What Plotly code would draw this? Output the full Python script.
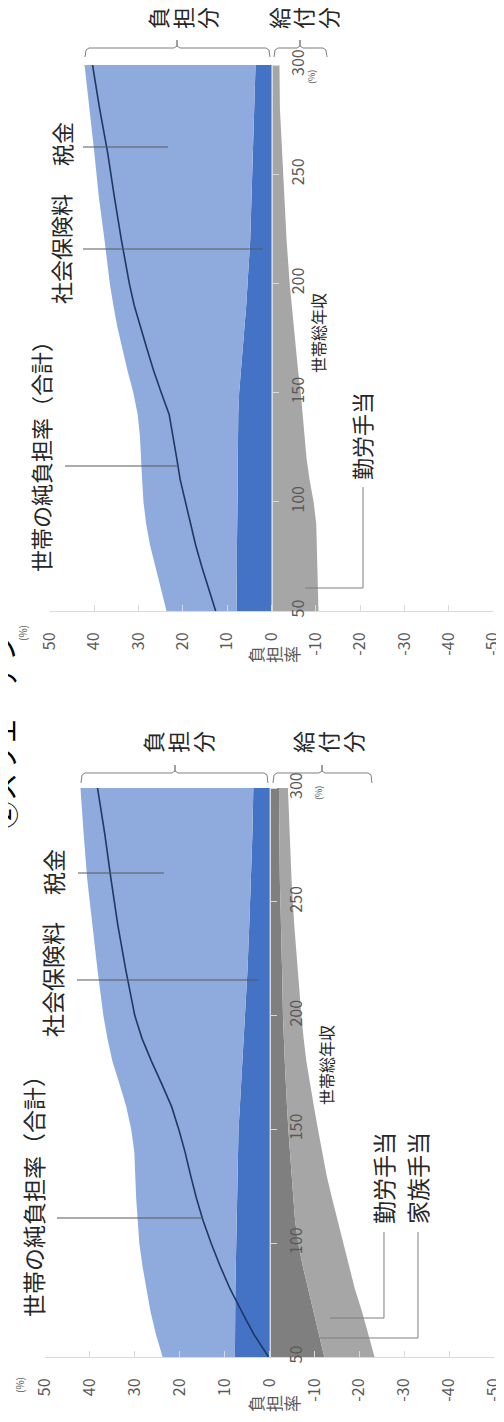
import plotly.graph_objects as go

W, H = 504, 1422
OFF = 8  # page body margin offset
FONT = "Noto Sans CJK JP"

# ---------------- data ----------------
income = [50, 60, 70, 80, 90, 100, 110, 120, 130, 140, 150, 160, 170, 180, 190, 200, 220, 240, 260, 280, 300]
income_ticks = [50, 100, 150, 200, 250, 300]
rate_ticks = [50, 40, 30, 20, 10, 0, -10, -20, -30, -40, -50]
rate_ticktext = ["50", "40", "30", "20", "10", "0", "-10", "-20", "-30", "-40", "-50"]

# panel A (lower block): with family allowance
a_social = [7.7, 7.7, 7.6, 7.6, 7.5, 7.4, 7.3, 7.2, 7.2, 7.1, 6.9, 6.6, 6.3, 6.0, 5.7, 5.4, 4.9, 4.5, 4.1, 3.8, 3.6]
a_tax = [16.1, 17.6, 18.9, 19.8, 20.8, 21.6, 22.1, 22.5, 22.7, 23.0, 23.9, 25.3, 27.1, 29.0, 30.4, 31.6, 33.4, 35.0, 36.5, 37.6, 38.5]
a_family = [-12.2, -11.0, -9.9, -8.6, -7.4, -6.4, -5.7, -5.3, -4.9, -4.5, -4.2, -3.9, -3.6, -3.4, -3.2, -3.0, -2.8, -2.5, -2.3, -2.2, -2.1]
a_work = [-11.2, -11.0, -10.7, -10.4, -10.3, -10.1, -9.5, -8.6, -7.8, -7.2, -6.6, -6.0, -5.4, -4.8, -4.4, -4.1, -3.5, -3.0, -2.6, -2.3, -2.0]
a_net = [0.2, 3.5, 6.2, 8.8, 11.0, 13.0, 14.8, 16.3, 17.6, 18.8, 20.2, 21.8, 24.0, 26.3, 28.4, 30.0, 32.0, 33.8, 35.3, 36.7, 38.3]

# panel B (upper block)
b_social = [7.9, 7.8, 7.8, 7.8, 7.7, 7.7, 7.6, 7.6, 7.6, 7.5, 7.3, 6.9, 6.4, 6.0, 5.7, 5.4, 4.8, 4.5, 4.2, 3.9, 3.6]
b_tax = [15.8, 17.1, 18.4, 19.6, 20.6, 21.2, 21.6, 21.8, 22.1, 22.7, 23.9, 25.6, 27.3, 28.8, 30.0, 31.1, 32.9, 34.5, 35.8, 37.2, 38.6]
b_work = [-10.6, -10.5, -10.4, -10.3, -10.1, -9.5, -8.6, -7.9, -7.5, -7.1, -6.6, -6.0, -5.5, -5.1, -4.6, -4.1, -3.4, -2.9, -2.4, -1.9, -1.8]
b_net = [12.6, 14.2, 15.7, 17.1, 18.3, 19.5, 20.6, 21.4, 22.2, 23.1, 24.9, 26.6, 28.1, 29.5, 31.0, 32.1, 33.9, 35.5, 37.0, 38.8, 40.4]

C_TAX = "#8FAADC"
C_SOC = "#4472C4"
C_FAM = "#7F7F7F"
C_WORK = "#A6A6A6"
C_NET = "#1F3864"
C_AX = "#D9D9D9"


def PX(px):
    return (px - OFF) / W


def PY(py):
    return 1 - (py - OFF) / H


def P(px, py):
    return PX(px), PY(py)


fig = go.Figure()


def area(xv, xa, ya, group, color, name):
    fig.add_trace(go.Scatter(x=xv, y=income, xaxis=xa, yaxis=ya, orientation="h",
                             stackgroup=group, mode="lines", line=dict(width=0),
                             fillcolor=color, name=name, showlegend=False))


area(a_social, "x", "y", "apos", C_SOC, "社会保険料")
area(a_tax, "x", "y", "apos", C_TAX, "税金")
area(a_family, "x", "y", "aneg", C_FAM, "家族手当")
area(a_work, "x", "y", "aneg", C_WORK, "勤労手当")
fig.add_trace(go.Scatter(x=a_net, y=income, xaxis="x", yaxis="y", mode="lines",
                         line=dict(color=C_NET, width=1.6), showlegend=False))

area(b_social, "x2", "y2", "bpos", C_SOC, "社会保険料")
area(b_tax, "x2", "y2", "bpos", C_TAX, "税金")
area(b_work, "x2", "y2", "bneg", C_WORK, "勤労手当")
fig.add_trace(go.Scatter(x=b_net, y=income, xaxis="x2", yaxis="y2", mode="lines",
                         line=dict(color=C_NET, width=1.6), showlegend=False))


def xax(px0, px1, anchor):
    return dict(domain=[PX(px0), PX(px1)], anchor=anchor, range=[50, -50],
                tickvals=rate_ticks, ticktext=rate_ticktext,
                tickangle=-90, ticks="inside", ticklen=6, tickcolor=C_AX, automargin=False,
                showline=True, linecolor=C_AX, linewidth=1, showgrid=False, zeroline=False,
                tickfont=dict(size=16, color="#595959", family=FONT), ticklabelstandoff=14)


def yax(py_bottom, py_top, px_pos):
    return dict(domain=[PY(py_bottom), PY(py_top)], anchor="free", position=PX(px_pos),
                side="right", range=[50, 300],
                tickvals=income_ticks, tickangle=-90, ticks="outside", ticklen=6,
                tickcolor=C_AX, showline=True, linecolor=C_AX, linewidth=1, automargin=False,
                showgrid=False, zeroline=False,
                tickfont=dict(size=16, color="#595959", family=FONT), ticklabelstandoff=6)


fig.update_layout(
    template="none",
    width=W, height=H, margin=dict(l=0, r=0, t=0, b=0, pad=0, autoexpand=False),
    paper_bgcolor="white", plot_bgcolor="white", showlegend=False,
    xaxis=xax(45, 494, "y"),
    yaxis=yax(1357, 788, 270),
    xaxis2=xax(50, 493, "y2"),
    yaxis2=yax(611, 65, 272),
)

ann = []


def label(text, px, py, size, color="#262626"):
    x, y = P(px, py)
    ann.append(dict(text=text, x=x, y=y, xref="paper", yref="paper", showarrow=False,
                    textangle=-90, xanchor="center", yanchor="middle",
                    font=dict(size=size, color=color, family=FONT)))


def chars(text, xs, py, size, color="#262626"):
    for ch, px in zip(text, xs):
        label(ch, px, py, size, color)


# title (cut at left edge, as in the source)
label("②スウェーデン", 3, 731, 28, "#000000")

# lower panel texts
label("世帯の純負担率（合計）", 33, 1191, 23)
label("社会保険料", 52, 980, 23)
label("税金", 53, 872, 23)
label("勤労手当", 383, 1178, 23)
label("家族手当", 417, 1178, 23)
label("世帯総年収", 326, 1065, 16)
label("(%)", 318, 793, 9, "#595959")
label("(%)", 19, 1385, 10, "#595959")
chars("負担率", [255, 273, 291], 1404, 17, "#595959")
chars("負担分", [152, 177, 202], 742, 22)
chars("給付分", [302, 327, 352], 742, 22)

# upper panel texts
label("世帯の純負担率（合計）", 40, 451, 22)
label("社会保険料", 60, 249, 22)
label("税金", 61, 144, 22)
label("勤労手当", 361, 436, 22)
label("世帯総年収", 318, 333, 16)
label("(%)", 312, 77, 9, "#595959")
label("(%)", 22, 633, 10, "#595959")
chars("負担率", [256, 274, 292], 655, 17, "#595959")
chars("負担分", [157, 182, 206], 18, 22)
chars("給付分", [278, 302, 327], 18, 22)

fig.update_layout(annotations=ann)

shapes = []
LC = "#595959"


def path(points, color=LC):
    d = ""
    for i, (px, py) in enumerate(points):
        x, y = P(px, py)
        d += ("M" if i == 0 else "L") + f"{x:.5f},{y:.5f} "
    shapes.append(dict(type="path", path=d.strip(), xref="paper", yref="paper",
                       line=dict(color=color, width=1)))


def bracket(x0, xm, x1, yl, yend, ynotch):
    pts = [(x0, yend), (x0 + 1, yl + 2), (x0 + 4, yl), (xm - 3, yl), (xm, yl - 2), (xm, ynotch),
           (xm, yl - 2), (xm + 3, yl), (x1 - 4, yl), (x1 - 1, yl + 2), (x1, yend)]
    path(pts, "#7F7F7F")


# lower panel pointers
path([(57, 1218), (203, 1218)])
path([(77, 980), (258, 980)])
path([(78, 873), (164, 873)])
path([(384, 1232), (384, 1318), (330, 1318)], "#7F7F7F")
path([(418, 1232), (418, 1338), (310, 1338)], "#7F7F7F")
bracket(81, 175, 268, 773, 783, 765)
bracket(273, 322, 372, 773, 783, 765)

# upper panel pointers
path([(65, 466), (178, 466)])
path([(83, 249), (263, 249)])
path([(83, 147), (168, 147)])
path([(363, 487), (363, 588), (305, 588)], "#7F7F7F")
bracket(85, 177, 270, 48, 57, 40)
bracket(274, 300, 327, 48, 57, 40)

fig.update_layout(shapes=shapes)

fig.write_html("out.html")
